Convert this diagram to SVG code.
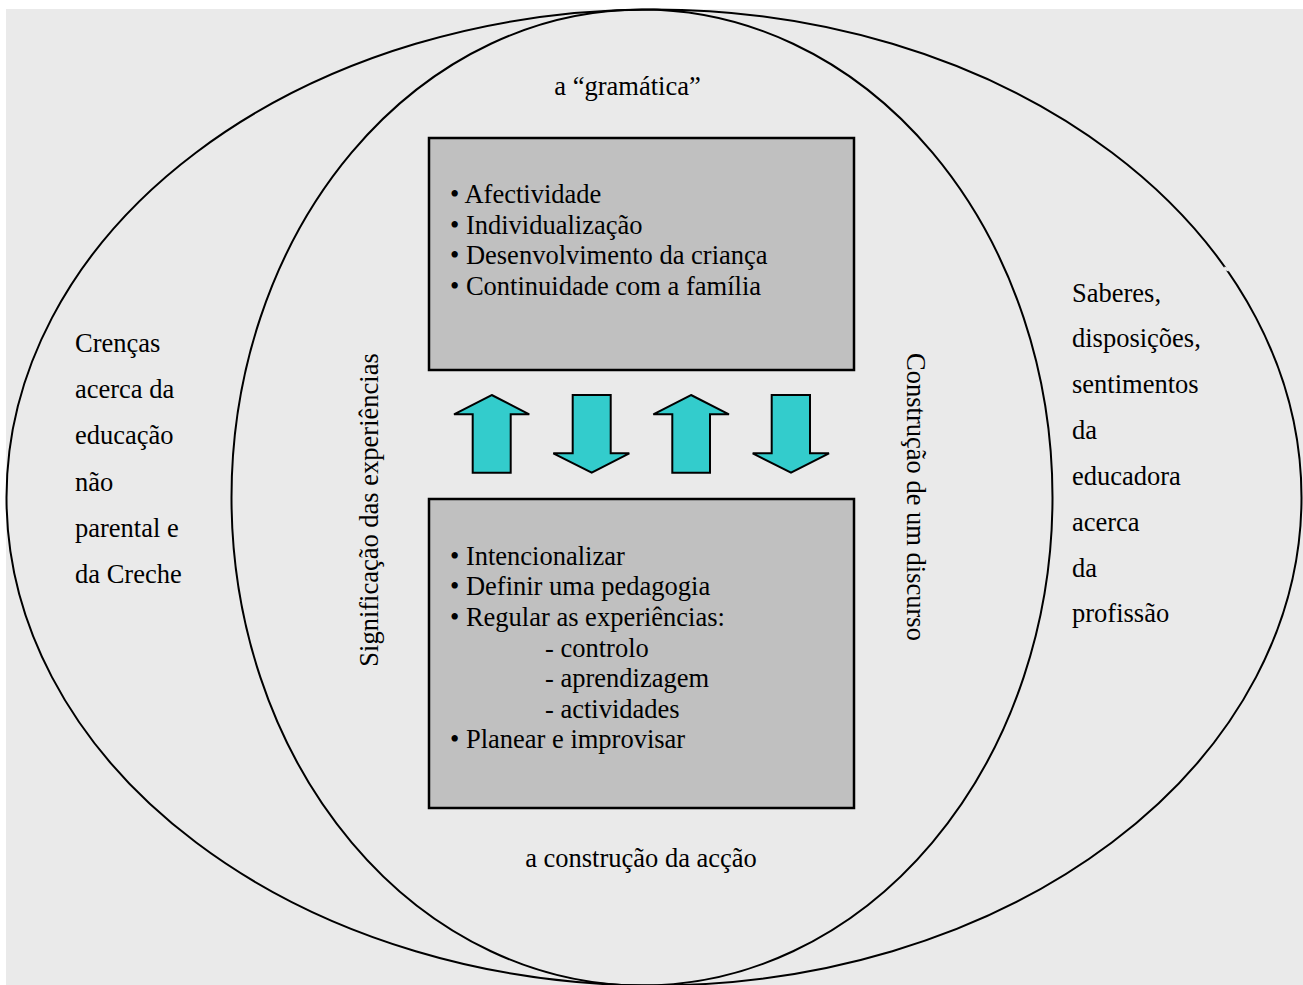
<svg xmlns="http://www.w3.org/2000/svg" width="1303" height="985" viewBox="0 0 1303 985">
<style>
  .bg { fill: #EAEAEA; }
  .ell { fill: none; stroke: #000; stroke-width: 2; }
  .box { fill: #C0C0C0; stroke: #000; stroke-width: 2.5; }
  .arr { fill: #33CCCC; stroke: #000; stroke-width: 2; stroke-linejoin: miter; }
  text { font-family: "Liberation Serif", "Times New Roman", serif; font-size: 26.5px; fill: #000; }
</style>
<rect x="0" y="0" width="1303" height="985" fill="#FFFFFF"/>
<rect class="bg" x="6" y="9" width="1297" height="976"/>
<g id="outer-ellipse">
  <ellipse class="ell" cx="654" cy="497.5" rx="647.5" ry="488"/>
  <line x1="1224" y1="268" x2="1229" y2="270" stroke="#EAEAEA" stroke-width="3"/>
</g>
<g id="inner-ellipse">
  <ellipse class="ell" cx="642" cy="497.5" rx="410.5" ry="488"/>
</g>
<g id="label-gramatica">
  <text x="627.5" y="95" text-anchor="middle">a “gramática”</text>
</g>
<g id="label-accao">
  <text x="641" y="867" text-anchor="middle">a construção da acção</text>
</g>
<g id="label-significacao">
  <text transform="translate(378,510) rotate(-90)" text-anchor="middle">Significação das experiências</text>
</g>
<g id="label-discurso">
  <text transform="translate(907,497) rotate(90)" text-anchor="middle">Construção de um discurso</text>
</g>
<g id="left-text">
  <text x="75" y="352">Crenças</text>
  <text x="75" y="398">acerca da</text>
  <text x="75" y="444">educação</text>
  <text x="75" y="491">não</text>
  <text x="75" y="537">parental e</text>
  <text x="75" y="583">da Creche</text>
</g>
<g id="right-text">
  <text x="1072" y="302">Saberes,</text>
  <text x="1072" y="347">disposições,</text>
  <text x="1072" y="393">sentimentos</text>
  <text x="1072" y="439">da</text>
  <text x="1072" y="485">educadora</text>
  <text x="1072" y="531">acerca</text>
  <text x="1072" y="577">da</text>
  <text x="1072" y="622">profissão</text>
</g>
<g id="top-box">
  <rect class="box" x="429" y="138" width="425" height="232"/>
  <text x="450" y="203">• Afectividade</text>
  <text x="450" y="234">• Individualização</text>
  <text x="450" y="264">• Desenvolvimento da criança</text>
  <text x="450" y="295">• Continuidade com a família</text>
</g>
<g id="bottom-box">
  <rect class="box" x="429" y="499" width="425" height="309"/>
  <text x="450" y="565">• Intencionalizar</text>
  <text x="450" y="595">• Definir uma pedagogia</text>
  <text x="450" y="626">• Regular as experiências:</text>
  <text x="545" y="657">- controlo</text>
  <text x="545" y="687">- aprendizagem</text>
  <text x="545" y="718">- actividades</text>
  <text x="450" y="748">• Planear e improvisar</text>
</g>
<g id="connectors">
  <polygon class="arr" points="491.7,395 529.3,414.3 510.7,414.3 510.7,472.7 472.7,472.7 472.7,414.3 454,414.3"/>
  <polygon class="arr" points="572.7,395 610.7,395 610.7,453.3 629.3,453.3 591.7,472.7 553.3,453.3 572.7,453.3"/>
  <polygon class="arr" points="691,395 729,414.3 710,414.3 710,472.7 672.3,472.7 672.3,414.3 653.3,414.3"/>
  <polygon class="arr" points="771.7,395 810,395 810,453.3 829,453.3 791,472.7 752.7,453.3 771.7,453.3"/>
</g>
</svg>
